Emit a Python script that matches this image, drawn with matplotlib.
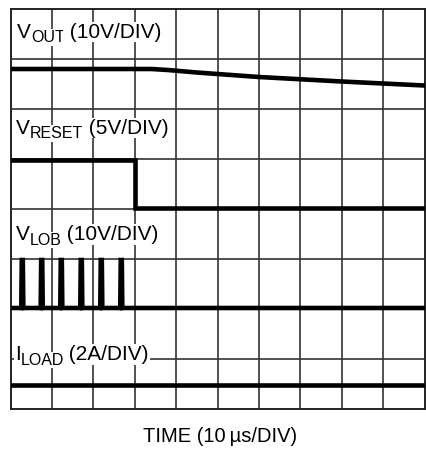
import matplotlib.pyplot as plt

plt.rcParams['font.family'] = ['Liberation Sans', 'DejaVu Sans']

# scope traces, in divisions (10 x 8 screen, y=0 at bottom)
vout_t = [0, 3.4, 3.8, 4.5, 6.0, 8.0, 10.0]
vout_v = [6.80, 6.80, 6.78, 6.73, 6.64, 6.55, 6.47]

vreset_t = [0, 3.0, 3.0, 10.0]
vreset_v = [4.98, 4.98, 4.03, 4.03]

vlob_base = 2.02
vlob_top = 2.98
vlob_pulses = [0.285, 0.754, 1.227, 1.71, 2.193, 2.676]

iload_t = [0, 10.0]
iload_v = [0.49, 0.49]

# channel labels: main letter, subscript, scale
lab_main = ['V', 'V', 'V', 'I']
lab_sub = ['OUT', 'RESET', 'LOB', 'LOAD']
lab_scale = ['(10V/DIV)', '(5V/DIV)', '(10V/DIV)', '(2A/DIV)']
lab_x = [0.16, 0.13, 0.13, 0.10]
lab_y = [7.43, 5.51, 3.38, 0.98]

fig = plt.figure(figsize=(4.26, 4.51), dpi=100)
ax = fig.add_axes([10.5 / 426, 42 / 451, 414 / 426, 400 / 451])
ax.set_xlim(0, 10)
ax.set_ylim(0, 8)

for gx in range(1, 10):
    ax.axvline(gx, color='#333333', lw=1.2, zorder=1)
for gy in range(1, 8):
    ax.axhline(gy, color='#333333', lw=1.2, zorder=1)
for s in ax.spines.values():
    s.set_color('#222222')
    s.set_linewidth(1.4)
ax.set_xticks([])
ax.set_yticks([])

trace = dict(color='black', lw=3.3, solid_joinstyle='miter', zorder=3)
ax.plot(vout_t, vout_v, **trace)
ax.plot(vreset_t, vreset_v, **trace)

# build the LOB pulse train from the pulse positions
w = 0.025
lx, ly = [0], [vlob_base]
for p in vlob_pulses:
    lx += [p - w, p - w / 2, p + w / 2, p + w]
    ly += [vlob_base, vlob_top, vlob_top, vlob_base]
lx.append(10)
ly.append(vlob_base)
ax.plot(lx, ly, **trace)
ax.plot(iload_t, iload_v, **trace)

bg = dict(facecolor='white', edgecolor='none', pad=0.6)
for m, sb, sc, x, y in zip(lab_main, lab_sub, lab_scale, lab_x, lab_y):
    t = ax.text(x, y, m, fontsize=15, va='baseline', ha='left', zorder=2, bbox=bg)
    s = ax.annotate(sb, xy=(1, 0), xycoords=t, xytext=(0.3, -2.6),
                    textcoords='offset points', fontsize=11.5, va='bottom',
                    ha='left', zorder=2, bbox=bg)
    ax.annotate(' ' + sc, xy=(1, 0), xycoords=(s, t), xytext=(-0.6, 0),
                textcoords='offset points', fontsize=15, va='bottom',
                ha='left', zorder=2, bbox=bg)

fig.text(220 / 426, 1 - 436 / 451, 'TIME (10\u2009µs/DIV)', fontsize=14.5,
         ha='center', va='center')

fig.savefig('out.png', dpi=100)
